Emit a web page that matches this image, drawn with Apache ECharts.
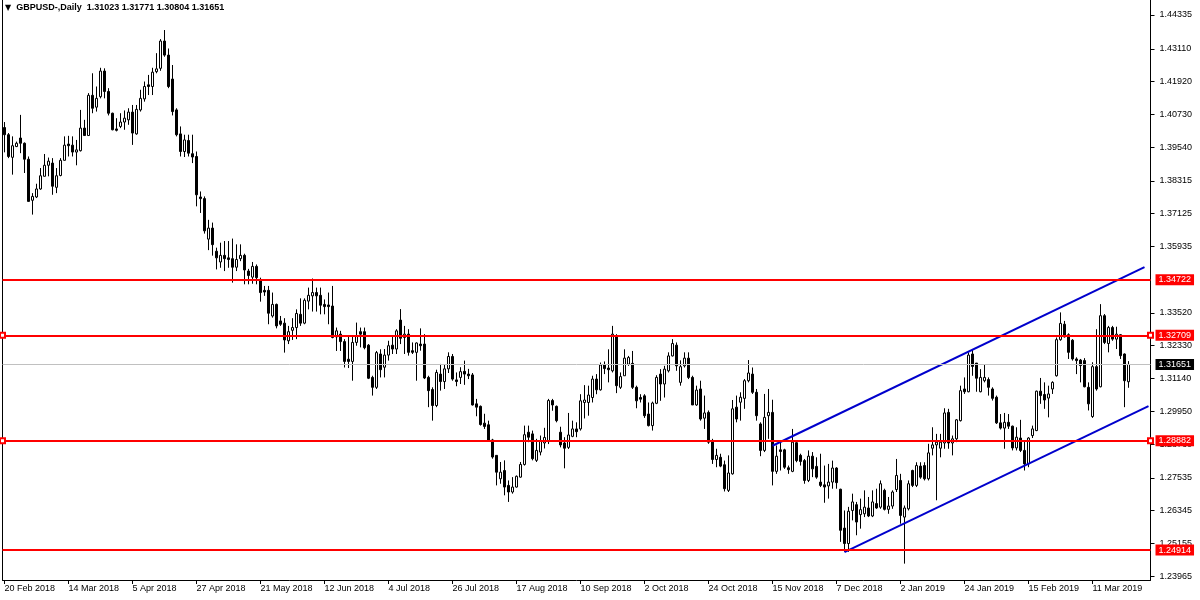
<!DOCTYPE html>
<html><head><meta charset="utf-8">
<script src="https://cdn.jsdelivr.net/npm/echarts@6/dist/echarts.min.js"></script>
<style>html,body{margin:0;padding:0;background:#fff}#c{width:1200px;height:600px}</style>
</head><body><div id="c"></div>
<script>
// ---------- data ----------
const symbolName = 'GBPUSD-,Daily';
const startDate = '2018-02-20';
const closedDays = ['12-25', '01-01'];
const futureBars = 5;
const monthNames = ['Jan','Feb','Mar','Apr','May','Jun','Jul','Aug','Sep','Oct','Nov','Dec'];

// daily candles: [open, high, low, close]
const candles = [
[1.4025,1.4045,1.3935,1.3999],[1.3999,1.4005,1.3914,1.3920],[1.3917,1.3993,1.3854,1.3959],[1.3956,1.3974,1.3954,1.3968],
[1.3987,1.4071,1.3932,1.3968],[1.3968,1.3971,1.3860,1.3910],[1.3910,1.3920,1.3757,1.3757],[1.3761,1.3787,1.3709,1.3775],
[1.3773,1.3821,1.3769,1.3802],[1.3802,1.3878,1.3799,1.3850],[1.3848,1.3929,1.3848,1.3888],[1.3888,1.3916,1.3848,1.3903],
[1.3896,1.3914,1.3781,1.3812],[1.3808,1.3878,1.3787,1.3850],[1.3851,1.3914,1.3848,1.3906],[1.3906,1.3993,1.3906,1.3961],
[1.3965,1.3995,1.3920,1.3959],[1.3961,1.3993,1.3920,1.3936],[1.3936,1.3980,1.3888,1.3944],[1.3941,1.4089,1.3938,1.4023],
[1.4023,1.4053,1.3996,1.3996],[1.3996,1.4150,1.3996,1.4142],[1.4142,1.4222,1.4077,1.4095],[1.4099,1.4174,1.4083,1.4131],
[1.4137,1.4242,1.4131,1.4230],[1.4230,1.4240,1.4131,1.4156],[1.4156,1.4168,1.4069,1.4077],[1.4077,1.4079,1.4015,1.4017],
[1.4020,1.4059,1.4011,1.4015],[1.4029,1.4077,1.4023,1.4045],[1.4045,1.4087,1.4017,1.4059],[1.4053,1.4095,1.4035,1.4081],
[1.4081,1.4107,1.3962,1.4005],[1.4002,1.4107,1.3999,1.4091],[1.4089,1.4162,1.4083,1.4131],[1.4129,1.4192,1.4119,1.4174],
[1.4180,1.4216,1.4143,1.4174],[1.4174,1.4242,1.4143,1.4226],[1.4228,1.4295,1.4222,1.4238],[1.4240,1.4346,1.4231,1.4339],
[1.4339,1.4379,1.4282,1.4288],[1.4288,1.4312,1.4168,1.4174],[1.4201,1.4252,1.4069,1.4083],[1.4089,1.4095,1.3993,1.3999],
[1.4002,1.4029,1.3920,1.3938],[1.3938,1.3999,1.3918,1.3980],[1.3978,1.3999,1.3920,1.3932],[1.3930,1.3999,1.3896,1.3918],
[1.3920,1.3938,1.3739,1.3781],[1.3773,1.3793,1.3715,1.3767],[1.3767,1.3775,1.3640,1.3650],[1.3620,1.3690,1.3580,1.3660],
[1.3660,1.3680,1.3560,1.3600],[1.3576,1.3589,1.3510,1.3552],[1.3537,1.3607,1.3516,1.3561],[1.3561,1.3613,1.3504,1.3549],
[1.3552,1.3613,1.3516,1.3546],[1.3549,1.3622,1.3462,1.3518],[1.3518,1.3601,1.3504,1.3546],[1.3549,1.3601,1.3540,1.3561],
[1.3561,1.3567,1.3456,1.3508],[1.3504,1.3512,1.3456,1.3488],[1.3482,1.3537,1.3458,1.3521],[1.3521,1.3528,1.3456,1.3480],
[1.3468,1.3480,1.3393,1.3426],[1.3434,1.3450,1.3414,1.3428],[1.3434,1.3450,1.3311,1.3351],[1.3341,1.3426,1.3335,1.3383],
[1.3383,1.3386,1.3296,1.3305],[1.3323,1.3341,1.3305,1.3311],[1.3315,1.3333,1.3208,1.3254],[1.3251,1.3305,1.3239,1.3284],
[1.3289,1.3333,1.3254,1.3299],[1.3299,1.3365,1.3257,1.3350],[1.3347,1.3405,1.3305,1.3315],[1.3315,1.3405,1.3311,1.3398],
[1.3395,1.3444,1.3365,1.3416],[1.3414,1.3477,1.3357,1.3426],[1.3426,1.3444,1.3357,1.3414],[1.3416,1.3444,1.3347,1.3380],
[1.3383,1.3401,1.3347,1.3375],[1.3381,1.3426,1.3311,1.3375],[1.3377,1.3450,1.3260,1.3263],[1.3265,1.3299,1.3214,1.3287],
[1.3275,1.3287,1.3214,1.3248],[1.3248,1.3257,1.3154,1.3176],[1.3184,1.3269,1.3152,1.3176],[1.3176,1.3269,1.3106,1.3245],
[1.3245,1.3317,1.3233,1.3269],[1.3284,1.3299,1.3227,1.3275],[1.3284,1.3299,1.3220,1.3226],[1.3235,1.3239,1.3112,1.3115],
[1.3118,1.3124,1.3052,1.3082],[1.3082,1.3214,1.3076,1.3208],[1.3203,1.3220,1.3118,1.3146],[1.3155,1.3221,1.3118,1.3199],
[1.3199,1.3251,1.3179,1.3233],[1.3235,1.3269,1.3203,1.3221],[1.3221,1.3293,1.3203,1.3287],[1.3326,1.3366,1.3239,1.3260],
[1.3263,1.3305,1.3203,1.3275],[1.3275,1.3293,1.3197,1.3209],[1.3215,1.3245,1.3203,1.3209],[1.3209,1.3245,1.3106,1.3243],
[1.3239,1.3296,1.3215,1.3233],[1.3239,1.3275,1.3112,1.3116],[1.3118,1.3124,1.3010,1.3070],[1.3074,1.3082,1.2961,1.3016],
[1.3016,1.3146,1.3010,1.3136],[1.3130,1.3167,1.3070,1.3103],[1.3103,1.3164,1.3076,1.3149],[1.3149,1.3209,1.3134,1.3194],
[1.3194,1.3203,1.3106,1.3112],[1.3109,1.3136,1.3086,1.3103],[1.3118,1.3155,1.3094,1.3139],[1.3140,1.3179,1.3091,1.3130],
[1.3130,1.3149,1.3112,1.3124],[1.3127,1.3134,1.3016,1.3018],[1.3022,1.3040,1.2977,1.3010],[1.3013,1.3016,1.2943,1.2947],
[1.2952,1.2986,1.2931,1.2940],[1.2946,1.2961,1.2885,1.2889],[1.2891,1.2895,1.2823,1.2829],[1.2835,1.2835,1.2726,1.2774],
[1.2750,1.2811,1.2732,1.2774],[1.2780,1.2817,1.2690,1.2720],[1.2726,1.2744,1.2666,1.2702],[1.2702,1.2756,1.2696,1.2720],
[1.2720,1.2762,1.2718,1.2759],[1.2756,1.2811,1.2754,1.2802],[1.2802,1.2943,1.2798,1.2910],[1.2919,1.2943,1.2883,1.2901],
[1.2913,1.2925,1.2817,1.2823],[1.2817,1.2895,1.2811,1.2853],[1.2847,1.2907,1.2835,1.2889],[1.2880,1.2935,1.2860,1.2900],
[1.2885,1.3040,1.2876,1.3034],[1.3034,1.3040,1.2997,1.3018],[1.3013,1.3016,1.2955,1.2961],[1.2919,1.2939,1.2864,1.2873],
[1.2880,1.2901,1.2788,1.2861],[1.2864,1.2989,1.2858,1.2909],[1.2904,1.2961,1.2901,1.2931],[1.2931,1.2955,1.2901,1.2921],
[1.2931,1.3057,1.2925,1.3033],[1.3027,1.3090,1.2969,1.3036],[1.3027,1.3088,1.2979,1.3054],[1.3045,1.3124,1.3027,1.3112],
[1.3112,1.3130,1.3057,1.3073],[1.3073,1.3172,1.3070,1.3163],[1.3163,1.3176,1.3130,1.3150],[1.3152,1.3220,1.3100,1.3146],
[1.3142,1.3305,1.3136,1.3275],[1.3269,1.3275,1.3061,1.3088],[1.3082,1.3136,1.3076,1.3121],[1.3124,1.3220,1.3124,1.3188],
[1.3166,1.3196,1.3160,1.3190],[1.3169,1.3214,1.3076,1.3082],[1.3082,1.3088,1.3006,1.3033],[1.3045,1.3057,1.3027,1.3039],
[1.3051,1.3057,1.2971,1.2979],[1.2985,1.3027,1.2940,1.2943],[1.2943,1.3030,1.2925,1.3025],[1.3024,1.3126,1.3021,1.3118],
[1.3130,1.3148,1.3033,1.3094],[1.3094,1.3160,1.3045,1.3148],[1.3142,1.3209,1.3136,1.3196],[1.3196,1.3257,1.3194,1.3241],
[1.3235,1.3245,1.3142,1.3160],[1.3100,1.3180,1.3088,1.3157],[1.3160,1.3209,1.3154,1.3188],[1.3188,1.3209,1.3112,1.3118],
[1.3118,1.3124,1.3018,1.3018],[1.3018,1.3088,1.3015,1.3072],[1.3076,1.3106,1.2961,1.2967],[1.2970,1.3052,1.2931,1.2989],
[1.2991,1.2998,1.2877,1.2883],[1.2889,1.2895,1.2804,1.2820],[1.2820,1.2859,1.2792,1.2835],[1.2828,1.2841,1.2792,1.2796],
[1.2801,1.2816,1.2704,1.2714],[1.2708,1.2835,1.2702,1.2771],[1.2768,1.3036,1.2765,1.3004],[1.3010,1.3052,1.2955,1.2967],
[1.3028,1.3064,1.2961,1.3046],[1.3042,1.3112,1.3004,1.3106],[1.3106,1.3181,1.3100,1.3134],[1.3130,1.3154,1.3058,1.3064],
[1.3064,1.3076,1.2961,1.2979],[1.2949,1.2955,1.2832,1.2853],[1.2853,1.3058,1.2847,1.2973],[1.2979,1.3076,1.2895,1.2991],
[1.2991,1.3037,1.2726,1.2777],[1.2777,1.2871,1.2768,1.2832],[1.2855,1.2889,1.2780,1.2849],[1.2855,1.2859,1.2786,1.2792],
[1.2790,1.2798,1.2768,1.2783],[1.2777,1.2931,1.2774,1.2883],[1.2881,1.2883,1.2810,1.2816],[1.2835,1.2841,1.2798,1.2813],
[1.2816,1.2822,1.2732,1.2744],[1.2744,1.2853,1.2738,1.2832],[1.2832,1.2847,1.2756,1.2786],[1.2795,1.2828,1.2750,1.2756],
[1.2738,1.2841,1.2720,1.2726],[1.2728,1.2798,1.2663,1.2720],[1.2724,1.2804,1.2678,1.2738],[1.2738,1.2816,1.2714,1.2789],
[1.2789,1.2792,1.2714,1.2736],[1.2712,1.2714,1.2521,1.2563],[1.2571,1.2635,1.2485,1.2515],[1.2515,1.2648,1.2485,1.2632],
[1.2635,1.2696,1.2599,1.2666],[1.2656,1.2666,1.2545,1.2593],[1.2620,1.2678,1.2569,1.2638],[1.2623,1.2708,1.2611,1.2647],
[1.2644,1.2684,1.2611,1.2615],[1.2615,1.2708,1.2611,1.2666],[1.2660,1.2714,1.2641,1.2644],[1.2647,1.2744,1.2641,1.2732],
[1.2708,1.2714,1.2635,1.2639],[1.2639,1.2684,1.2623,1.2651],[1.2651,1.2708,1.2641,1.2702],[1.2711,1.2822,1.2702,1.2762],
[1.2744,1.2768,1.2587,1.2617],[1.2611,1.2653,1.2442,1.2644],[1.2641,1.2744,1.2635,1.2732],[1.2780,1.2783,1.2720,1.2726],
[1.2726,1.2810,1.2720,1.2798],[1.2796,1.2810,1.2750,1.2756],[1.2798,1.2810,1.2744,1.2750],[1.2750,1.2877,1.2744,1.2844],
[1.2861,1.2937,1.2835,1.2873],[1.2873,1.2913,1.2672,1.2883],[1.2861,1.2913,1.2828,1.2883],[1.2880,1.3006,1.2859,1.2989],
[1.2991,1.3004,1.2859,1.2880],[1.2880,1.2907,1.2835,1.2895],[1.2895,1.2967,1.2883,1.2964],[1.2961,1.3088,1.2958,1.3070],
[1.3076,1.3118,1.3058,1.3066],[1.3066,1.3209,1.3064,1.3199],[1.3203,1.3221,1.3124,1.3158],[1.3170,1.3170,1.3066,1.3115],
[1.3066,1.3148,1.3064,1.3118],[1.3106,1.3166,1.3100,1.3118],[1.3110,1.3118,1.3052,1.3082],[1.3076,1.3082,1.3034,1.3042],
[1.3046,1.3052,1.2949,1.2953],[1.2953,1.2985,1.2929,1.2934],[1.2934,1.2989,1.2859,1.2955],[1.2955,1.2985,1.2931,1.2941],
[1.2941,1.2943,1.2853,1.2862],[1.2862,1.2937,1.2853,1.2901],[1.2898,1.2964,1.2847,1.2853],[1.2853,1.2889,1.2780,1.2804],
[1.2804,1.2901,1.2792,1.2898],[1.2907,1.2943,1.2898,1.2931],[1.2925,1.3070,1.2923,1.3068],[1.3068,1.3116,1.3022,1.3052],
[1.3056,1.3100,1.3004,1.3036],[1.3043,1.3088,1.2973,1.3058],[1.3076,1.3104,1.3058,1.3100],[1.3124,1.3263,1.3121,1.3255],
[1.3255,1.3354,1.3251,1.3314],[1.3311,1.3323,1.3263,1.3265],[1.3273,1.3278,1.3185,1.3209],[1.3253,1.3257,1.3179,1.3185],
[1.3185,1.3191,1.3130,1.3179],[1.3181,1.3185,1.3100,1.3161],[1.3179,1.3188,1.3082,1.3084],[1.3082,1.3100,1.2998,1.3022],
[1.2976,1.3173,1.2971,1.3157],[1.3157,1.3293,1.3070,1.3076],[1.3084,1.3384,1.3082,1.3342],[1.3342,1.3348,1.3239,1.3245],
[1.3241,1.3305,1.3209,1.3299],[1.3299,1.3305,1.3251,1.3257],[1.3257,1.3302,1.3221,1.3275],[1.3273,1.3275,1.3185,1.3197],
[1.3203,1.3205,1.3010,1.3106],[1.31023,1.31771,1.30804,1.31651]
];

// right price scale labels
const priceTicks = [1.44335,1.43110,1.41920,1.40730,1.39540,1.38315,1.37125,1.35935,
  1.33520,1.32330,1.31140,1.29950,1.28760,1.27535,1.26345,1.25155,1.23965];
const priceMin = 1.23826, priceMax = 1.44880;

// horizontal support / resistance levels
const plainLevels = [1.34722, 1.24914];
const markedLevels = [1.32709, 1.28882];

// rising channel: [bar index, price]
const channelUpper = [[192, 1.2870], [285, 1.3518]];
const channelLower = [[210, 1.2484], [286, 1.3014]];

// ---------- build ----------
function tradingDates(start, n) {
  const out = [];
  const d = new Date(start + 'T00:00:00Z');
  while (out.length < n) {
    const wd = d.getUTCDay();
    const md = String(d.getUTCMonth() + 1).padStart(2, '0') + '-' + String(d.getUTCDate()).padStart(2, '0');
    if (wd !== 0 && wd !== 6 && closedDays.indexOf(md) < 0) {
      out.push(d.getUTCDate() + ' ' + monthNames[d.getUTCMonth()] + ' ' + d.getUTCFullYear());
    }
    d.setUTCDate(d.getUTCDate() + 1);
  }
  return out;
}
const dates = tradingDates(startDate, candles.length + futureBars);
const ecData = candles.map(r => [r[0], r[3], r[2], r[1]]);
const last = candles[candles.length - 1];
const header = symbolName + '  ' + last.map(v => v.toFixed(5)).join(' ');

const FONT = 'Liberation Sans';
const boxLabel = (bg, v) => ({
  show: true, position: 'end', distance: 5,
  formatter: v.toFixed(5),
  color: '#fff', backgroundColor: bg, padding: [1, 3, 0, 3],
  fontFamily: FONT, fontSize: 9, lineHeight: 10
});

const chart = echarts.init(document.getElementById('c'), null, {renderer: 'canvas'});
chart.setOption({
  animation: false,
  backgroundColor: '#fff',
  title: {
    left: 4, top: 3, padding: 0,
    text: '{tri|\u25BC}{t|' + header + '}',
    textStyle: {
      rich: {
        tri: {fontFamily: 'DejaVu Sans', fontSize: 8, color: '#000', padding: [0, 5, 0, 1]},
        t: {fontFamily: FONT, fontSize: 9, color: '#000'}
      }
    }
  },
  grid: {left: 2.5, right: 49.5, top: 0, bottom: 20, containLabel: false},
  xAxis: {
    type: 'category', data: dates, boundaryGap: true,
    axisLine: {show: true, lineStyle: {color: '#000', width: 1}},
    axisTick: {show: true, interval: 15, alignWithLabel: true, length: 4, lineStyle: {color: '#000'}},
    axisLabel: {interval: 15, align: 'left', margin: 4, color: '#000', fontFamily: FONT, fontSize: 9},
    splitLine: {show: false}
  },
  yAxis: [{
    type: 'value', position: 'right', min: priceMin, max: priceMax,
    axisLine: {show: true, lineStyle: {color: '#000', width: 1}},
    axisTick: {show: true, length: 4, customValues: priceTicks, lineStyle: {color: '#000'}},
    axisLabel: {show: true, customValues: priceTicks, formatter: v => Number(v).toFixed(5),
      margin: 9, color: '#000', fontFamily: FONT, fontSize: 9},
    splitLine: {show: false}
  }, {
    type: 'value', position: 'left', min: priceMin, max: priceMax,
    axisLine: {show: true, lineStyle: {color: '#000', width: 1}},
    axisTick: {show: false}, axisLabel: {show: false}, splitLine: {show: false}
  }],
  series: [{
    type: 'candlestick',
    data: ecData,
    barWidth: 2,
    itemStyle: {color: '#ffffff', color0: '#000000', borderColor: '#000000', borderColor0: '#000000', borderColorDoji: '#000000', borderWidth: 1},
    markLine: {
      silent: true, animation: false, symbol: 'none', precision: 5,
      data: plainLevels.map(v => ({yAxis: v, lineStyle: {color: '#ff0000', width: 2, type: 'solid'}, label: boxLabel('#ff0000', v)}))
        .concat([{yAxis: last[3], lineStyle: {color: '#c0c0c0', width: 1, type: 'solid'}, label: boxLabel('#000000', last[3])}])
    }
  }, {
    type: 'line', data: channelUpper, showSymbol: false, symbol: 'none', z: 4,
    lineStyle: {color: '#0000cc', width: 2},
    markLine: {
      silent: true, animation: false, symbol: ['emptyRect', 'emptyRect'], symbolSize: 5, precision: 5,
      data: markedLevels.map(v => ({yAxis: v, lineStyle: {color: '#ff0000', width: 2, type: 'solid'}, label: boxLabel('#ff0000', v)}))
    }
  }, {
    type: 'line', data: channelLower, showSymbol: false, symbol: 'none', z: 4,
    lineStyle: {color: '#0000cc', width: 2}
  }]
});
</script></body></html>
